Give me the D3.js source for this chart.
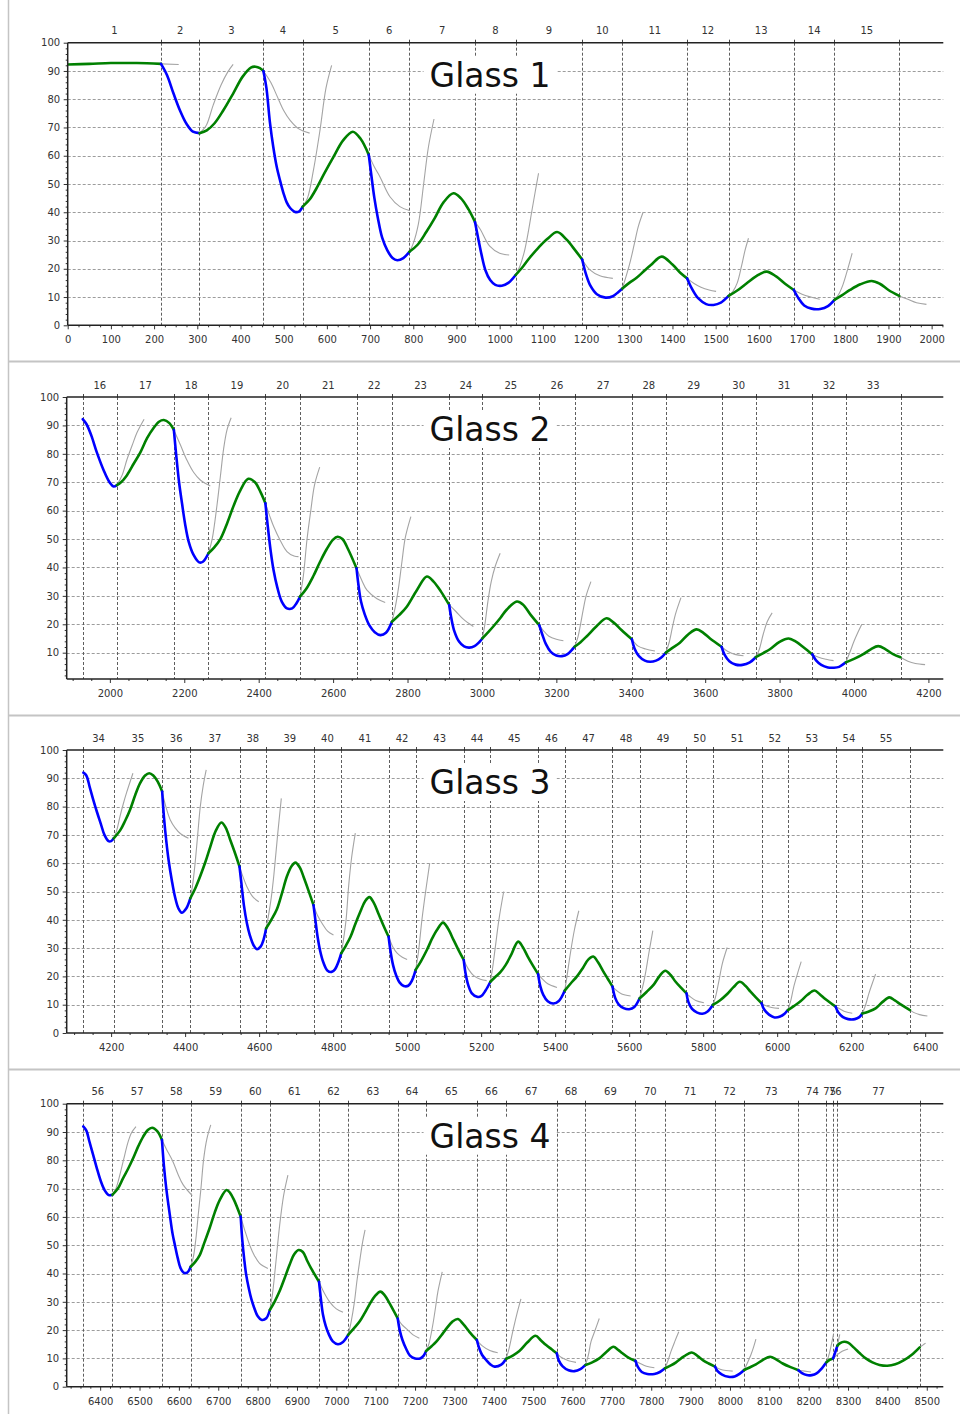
<!DOCTYPE html>
<html>
<head>
<meta charset="utf-8">
<script src="https://cdn.jsdelivr.net/npm/d3@7"></script>
<style>
  html, body { margin: 0; padding: 0; background: #fff; }
  svg { display: block; }
</style>
</head>
<body>
<svg id="chart" width="960" height="1414"></svg>
<script>
// ---------------------------------------------------------------
// Data: cycle boundaries, main trace points and extrapolation traces
// ---------------------------------------------------------------
const titles = ["Glass 1", "Glass 2", "Glass 3", "Glass 4"];
const firstCycle = [1, 16, 34, 56];

const glass1Bounds = [0, 216, 305, 453, 544, 697, 791, 943, 1037, 1191, 1284, 1434, 1530, 1681, 1775, 1925];
const glass1Curve = [
  [0,92.3],[50,92.5],[100,92.8],[160,92.8],[216,92.5],
  [230,88.5],[245,82],[260,76],[275,71.3],[290,68.5],[305,68],
  [322,69],[340,71.5],[360,76],[383,82],[405,88],[425,91.3],[435,91.5],[445,91],[453,90],
  [460,84],[468,72],[476,63],[484,56],[492,51],[500,46.5],[507,43.5],[515,41.5],[525,40.2],[535,40.2],[544,42],
  [560,44.5],[576,48.5],[595,54],[615,59.5],[638,65.5],[660,68.5],[678,66],[697,60.3],
  [703,53],[710,45],[718,38],[728,31],[740,26.5],[752,23.8],[763,23],[777,23.8],[791,26],
  [810,28.5],[830,33],[850,38],[870,43.5],[893,46.7],[910,45],[928,41],[943,36.5],
  [950,31],[958,25],[967,19.5],[978,16],[990,14.3],[1005,14],[1020,15],[1037,17.8],
  [1055,21],[1070,24],[1090,27.5],[1110,30.5],[1133,33],[1155,30.3],[1175,26.5],[1191,23.3],
  [1200,18],[1210,14],[1225,11],[1245,9.8],[1262,10.3],[1275,11.8],[1284,13],
  [1300,15],[1317,16.8],[1335,19.3],[1350,21.3],[1375,24.3],[1400,21.5],[1420,18.3],[1434,16.6],
  [1445,13],[1460,9.5],[1478,7.5],[1495,7.2],[1512,8],[1530,10.4],
  [1550,12.3],[1572,14.9],[1595,17.5],[1618,19],[1640,17.3],[1660,14.8],[1681,12.5],
  [1692,9.5],[1705,7],[1722,5.9],[1742,5.8],[1760,6.8],[1775,9],
  [1793,10.7],[1811,12.5],[1835,14.5],[1861,15.7],[1880,14.7],[1900,12.5],[1925,10.4]
];
const glass1Ghosts = [
  [[216,92.5],[257,92.3]],
  [[305,68],[320,70.5],[337,78],[355,85],[370,89.5],[383,92.3]],
  [[453,90],[470,86],[485,81],[500,76],[515,72.5],[535,69.5],[560,68]],
  [[544,42],[555,45],[569,55],[584,69],[598,84],[611,92]],
  [[697,60.3],[710,56],[723,52.5],[746,45.5],[769,42],[791,40.6]],
  [[791,26],[800,29],[812,36],[824,50],[835,63],[848,73]],
  [[943,36.5],[955,34],[977,28],[1000,25.5],[1022,24.9]],
  [[1037,17.8],[1047,21],[1057,26],[1065,32],[1074,40],[1082,47],[1090,53.8]],
  [[1191,23.3],[1209,19.6],[1232,17.5],[1262,16.6]],
  [[1284,13],[1294,18],[1303,23],[1312,29],[1321,35],[1332,40]],
  [[1434,16.6],[1450,14.8],[1466,13.5],[1485,12.5],[1501,12]],
  [[1530,10.4],[1540,12],[1550,15],[1560,21],[1568,26.5],[1576,30.8]],
  [[1681,12.5],[1700,11],[1720,10],[1741,9.2]],
  [[1775,9],[1785,11],[1795,14.5],[1805,19.5],[1816,25.5]],
  [[1925,10.4],[1945,9.2],[1965,8],[1988,7.4]]
];

const glass2Bounds = [1927, 2019, 2172, 2265, 2418, 2511, 2663, 2758, 2912, 3001, 3154, 3249, 3403, 3494, 3644, 3736, 3888, 3978, 4125];
const glass2Curve = [
  [1927,92.2],[1937,90.5],[1950,86.5],[1965,80.5],[1983,74.3],[2000,69.8],[2010,68.5],[2019,69],
  [2030,70],[2046,72.5],[2064,76.5],[2082,80.5],[2100,85.5],[2117,89],[2132,91.3],[2145,91.9],[2160,90.8],[2172,88.4],
  [2178,80],[2186,70],[2194,62.5],[2202,55.5],[2212,49],[2225,44.4],[2240,41.8],[2250,42],[2265,45],
  [2280,47],[2297,50],[2315,55.5],[2332,61.5],[2350,67],[2372,71.2],[2390,70],[2405,66.5],[2418,62.6],
  [2424,55],[2432,46],[2440,39],[2450,33],[2462,28],[2476,25.6],[2490,25.6],[2502,27.5],[2511,29.7],
  [2528,32.5],[2547,37],[2565,42],[2583,46.5],[2600,49.8],[2612,50.8],[2625,50],[2640,46.5],[2663,39.7],
  [2668,34],[2675,28],[2685,23.5],[2698,19.5],[2712,17.2],[2727,16.2],[2742,17],[2758,20.9],
  [2778,23.3],[2798,26.2],[2825,32],[2852,36.8],[2870,35],[2890,31.5],[2912,26.8],
  [2918,22],[2926,17.5],[2938,14],[2952,12.2],[2966,11.8],[2980,12.3],[2992,13.6],[3001,15],
  [3015,17],[3031,19.3],[3050,22.3],[3067,25.2],[3094,28],[3110,27],[3130,23.5],[3154,19.7],
  [3162,16.5],[3172,13],[3185,10.3],[3200,9],[3215,8.8],[3230,9.5],[3249,12.1],
  [3265,13.7],[3282,15.8],[3308,19.3],[3335,22.1],[3355,20.5],[3375,18],[3403,14.7],
  [3410,11.5],[3422,8.8],[3438,7.2],[3452,6.8],[3468,7.2],[3482,8.3],[3494,10],
  [3512,11.7],[3532,13.5],[3555,16.5],[3577,18.2],[3595,17],[3613,15],[3644,12.1],
  [3652,9.3],[3665,7],[3682,5.8],[3700,5.7],[3720,6.6],[3736,8.4],
  [3755,9.8],[3774,11.2],[3800,13.8],[3824,15],[3845,13.8],[3865,11.8],[3888,9.4],
  [3898,7.3],[3912,5.7],[3930,4.8],[3945,4.7],[3960,5],[3978,6.6],
  [4000,7.8],[4025,9.5],[4045,11.2],[4065,12.3],[4085,11.2],[4105,9.5],[4125,8.4]
];
const glass2Ghosts = [
  [[2019,69],[2033,72.5],[2046,78],[2060,83],[2073,87.5],[2092,92.2]],
  [[2172,88.4],[2190,83],[2207,77.8],[2225,73.5],[2243,70.8],[2270,68.7]],
  [[2265,45],[2275,50],[2288,62],[2297,72],[2306,82],[2315,88.5],[2326,92.7]],
  [[2418,62.6],[2430,58],[2440,54.5],[2458,49.5],[2476,45.6],[2495,44],[2507,43.8]],
  [[2511,29.7],[2520,37],[2530,50],[2540,60],[2550,69],[2564,75.3]],
  [[2663,39.7],[2677,35.5],[2691,32],[2718,29],[2740,27.7]],
  [[2758,20.9],[2767,26],[2776,33],[2785,42],[2794,50.5],[2809,57.9]],
  [[2912,26.8],[2930,24.5],[2950,21.8],[2977,19.2]],
  [[3001,15],[3008,20],[3016,28],[3025,35],[3036,40.5],[3049,45]],
  [[3154,19.7],[3165,17.8],[3180,15.8],[3200,14.7],[3219,14.2]],
  [[3249,12.1],[3258,15.5],[3265,20],[3272,25],[3280,30],[3293,35]],
  [[3403,14.7],[3420,12.3],[3440,11.3],[3465,10.6]],
  [[3494,10],[3503,13.5],[3512,19],[3520,23.5],[3535,29.4]],
  [[3644,12.1],[3660,10.5],[3680,9.4],[3703,8.9]],
  [[3736,8.4],[3745,11],[3756,16.5],[3767,21],[3780,24]],
  [[3888,9.4],[3905,8.4],[3925,7.7],[3945,7.2]],
  [[3978,6.6],[3990,10.5],[4000,14],[4010,17],[4021,20]],
  [[4125,8.4],[4145,7],[4165,6.2],[4191,5.8]]
];

const glass3Bounds = [4125, 4207, 4338, 4414, 4547, 4619, 4747, 4822, 4950, 5023, 5153, 5225, 5354, 5426, 5555, 5628, 5755, 5826, 5958, 6029, 6158, 6230, 6359];
const glass3Curve = [
  [4125,92],[4133,91],[4142,87],[4152,82.3],[4162,78],[4172,74],[4182,70],[4193,67.8],[4200,67.8],[4207,68.8],
  [4224,71.5],[4238,75],[4251,78.8],[4265,84],[4278,88.2],[4292,91],[4303,91.8],[4314,91],[4326,88.8],[4338,85.3],
  [4343,76],[4349,68],[4356,60.5],[4364,54],[4372,48.5],[4382,44],[4391,42.5],[4403,44],[4414,47.6],
  [4427,51],[4441,55.5],[4455,60.5],[4468,65.8],[4483,71.5],[4498,74.4],[4510,72.5],[4522,68.2],[4535,63.5],[4547,58.8],
  [4552,53],[4559,45],[4567,38.8],[4575,34.5],[4585,31],[4594,29.6],[4604,30.5],[4612,33],[4619,37],
  [4633,40],[4648,43.7],[4662,49.5],[4675,55.3],[4688,59],[4698,60.2],[4710,58.5],[4720,55.2],[4733,50.5],[4747,45.2],
  [4752,40],[4758,34],[4765,29],[4774,24.8],[4785,22],[4796,21.6],[4805,22.5],[4814,25],[4822,28.2],
  [4835,31],[4847,34],[4860,38.5],[4874,43],[4886,46.5],[4898,48],[4910,46],[4922,42.3],[4936,38],[4950,34],
  [4955,29],[4962,24],[4970,20.5],[4980,17.8],[4991,16.6],[5003,16.7],[5013,18.5],[5023,22.3],
  [5038,25.5],[5054,29.5],[5068,33.5],[5081,36.5],[5097,39],[5110,37],[5125,33],[5140,29],[5153,25.8],
  [5158,21],[5165,17],[5175,14],[5189,12.8],[5200,13],[5212,15],[5225,18.1],
  [5238,19.8],[5252,21.5],[5266,24],[5280,27.3],[5300,32.3],[5312,30.5],[5326,27],[5340,23.8],[5354,20.8],
  [5360,16.5],[5368,13.5],[5380,11.2],[5395,10.4],[5410,11.3],[5426,15],
  [5442,17.5],[5459,20],[5475,23],[5490,26],[5503,27],[5516,25],[5530,21.8],[5543,19],[5555,16.4],
  [5562,12.5],[5572,10],[5585,8.8],[5600,8.4],[5614,9.2],[5628,12.2],
  [5647,14.5],[5667,17.2],[5683,20.3],[5698,22],[5712,20.5],[5725,18.2],[5740,16],[5755,14],
  [5760,11],[5770,8.5],[5784,7.2],[5798,6.8],[5812,7.6],[5826,9.9],
  [5845,11.5],[5865,13.8],[5882,16.2],[5899,18.1],[5914,16.7],[5928,14.6],[5943,12.5],[5958,10.5],
  [5965,8.3],[5978,6.5],[5993,5.5],[6008,5.8],[6020,6.8],[6029,8.1],
  [6045,9.5],[6063,11.2],[6082,13.5],[6101,15],[6115,13.7],[6130,12],[6158,9.3],
  [6165,7.3],[6178,5.6],[6192,4.9],[6210,4.9],[6222,5.6],[6230,6.9],
  [6248,7.6],[6266,8.7],[6285,11],[6303,12.6],[6318,11.5],[6335,10],[6359,8.1]
];
const glass3Ghosts = [
  [[4207,68.8],[4215,71.5],[4224,76.5],[4233,81],[4242,85],[4259,91.8]],
  [[4338,85.3],[4348,80],[4360,75.3],[4373,72.5],[4387,70.5],[4409,68.8]],
  [[4414,47.6],[4420,52],[4427,60],[4434,70],[4441,80],[4449,87.5],[4457,93]],
  [[4547,58.8],[4557,55],[4567,51.7],[4582,48.3],[4599,46.4]],
  [[4619,37],[4626,42],[4633,48],[4640,56],[4650,70],[4660,82.9]],
  [[4747,45.2],[4758,41.5],[4770,38.8],[4785,36],[4801,34.6]],
  [[4822,28.2],[4828,33],[4835,40],[4842,52],[4850,62],[4860,70.6]],
  [[4950,34],[4961,30.5],[4973,28.2],[4987,26.8],[5000,26]],
  [[5023,22.3],[5030,28],[5040,40],[5050,50],[5061,60]],
  [[5153,25.8],[5166,22.5],[5180,20.3],[5198,19],[5215,18.5]],
  [[5225,18.1],[5231,23],[5238,30],[5248,40],[5261,50]],
  [[5354,20.8],[5366,19],[5380,17.4],[5405,16.1]],
  [[5426,15],[5432,20],[5441,28],[5452,36.4],[5464,43.2]],
  [[5555,16.4],[5566,15],[5580,13.8],[5604,13.1]],
  [[5628,12.2],[5636,16],[5644,21],[5653,28],[5664,36.2]],
  [[5755,14],[5765,12.8],[5780,11.5],[5802,10.7]],
  [[5826,9.9],[5833,12.5],[5843,18.7],[5852,24.6],[5865,30.2]],
  [[5958,10.5],[5970,9.6],[5985,9],[6005,8.7]],
  [[6029,8.1],[6037,11.5],[6045,16.4],[6055,21],[6065,25.2]],
  [[6158,9.3],[6170,8.5],[6185,7.5],[6203,7]],
  [[6230,6.9],[6238,9.5],[6248,14],[6257,17.5],[6266,20.8]],
  [[6359,8.1],[6370,7.2],[6385,6.5],[6406,6]]
];

const glass4Bounds = [6357, 6431, 6557, 6630, 6757, 6831, 6956, 7030, 7156, 7228, 7357, 7431, 7560, 7633, 7760, 7835, 7962, 8036, 8174, 8245, 8262, 8273, 8482];
const glass4Curve = [
  [6357,92],[6365,90.5],[6372,87],[6382,82],[6392,77],[6402,72.5],[6412,69.3],[6422,67.7],[6431,67.8],
  [6445,70],[6458,73.6],[6471,77],[6484,80.8],[6497,85],[6509,88.3],[6521,90.7],[6532,91.5],[6545,90.3],[6557,87.2],
  [6562,78],[6568,70],[6577,60.7],[6584,54],[6590,50],[6597,45.5],[6604,42],[6612,40.3],[6621,40.3],[6630,42.4],
  [6641,44],[6653,46.5],[6665,51],[6678,56],[6691,61.5],[6704,66],[6721,69.5],[6730,68.5],[6740,66],[6757,60.1],
  [6761,52],[6766,45],[6771,39.5],[6778,34.5],[6784,31],[6791,28],[6800,25],[6811,23.6],[6822,24.2],[6831,27.1],
  [6843,30],[6856,33.8],[6869,38.5],[6881,43],[6893,46.8],[6904,48.3],[6915,47.6],[6926,44.5],[6936,41.8],[6956,37.1],
  [6960,32],[6966,25.5],[6973,21.5],[6981,18.5],[6991,16],[7004,15],[7017,15.8],[7030,18.3],
  [7044,20.5],[7059,23],[7072,26],[7084,29],[7098,32],[7112,33.6],[7123,32.3],[7135,29.5],[7156,24.1],
  [7161,20],[7168,16.5],[7177,13.5],[7187,11],[7200,10],[7213,10],[7222,11],[7228,12.6],
  [7242,14.3],[7254,15.9],[7267,18.2],[7280,20.6],[7295,23],[7309,23.9],[7323,22],[7338,19.4],[7357,16.5],
  [7362,14],[7370,11.3],[7381,9.4],[7392,7.8],[7402,7.1],[7419,7.8],[7431,9.8],
  [7448,11],[7465,12.6],[7485,15.6],[7506,18],[7520,16.3],[7533,14.7],[7547,13.2],[7560,11.8],
  [7565,9.3],[7575,7.2],[7590,5.8],[7605,5.5],[7620,6.2],[7633,7.7],
  [7650,8.6],[7668,10],[7686,12.3],[7704,14.1],[7716,13],[7727,11.8],[7742,10.3],[7760,9.1],
  [7766,7],[7776,5.2],[7790,4.5],[7808,4.5],[7822,5.2],[7835,6.5],
  [7850,7.5],[7863,8.6],[7883,10.7],[7903,12.1],[7918,10.8],[7931,9.4],[7946,8.2],[7962,7.1],
  [7968,5.6],[7980,4.3],[7996,3.5],[8012,3.6],[8025,4.6],[8036,5.9],
  [8050,6.8],[8066,7.9],[8084,9.5],[8102,10.6],[8118,9.6],[8134,8.2],[8154,6.9],[8174,5.8],
  [8183,4.8],[8195,4.1],[8208,4.1],[8220,4.7],[8234,6.6],[8245,8.6],
  [8253,9.5],[8262,10],
  [8267,12],[8273,14.5],
  [8280,15.4],[8290,15.9],[8300,15.6],[8315,13.8],[8330,11.8],[8345,10],[8362,8.6],[8380,7.7],[8400,7.4],
  [8420,7.9],[8440,9.2],[8462,11.3],[8482,13.9]
];
const glass4Ghosts = [
  [[6431,67.8],[6440,70],[6450,74.8],[6460,80.5],[6471,86.5],[6480,89.8],[6491,91.9]],
  [[6557,87.2],[6570,83.5],[6585,79.5],[6598,75],[6611,71.3],[6634,67.5]],
  [[6630,42.4],[6637,46],[6643,52],[6649,60.5],[6656,70],[6663,80.5],[6671,87.5],[6681,92.5]],
  [[6757,60.1],[6768,55],[6780,50],[6792,46.3],[6805,43.6],[6826,41.8]],
  [[6831,27.1],[6838,33],[6845,42],[6856,57],[6866,67.5],[6877,74.8]],
  [[6956,37.1],[6968,33.5],[6983,30],[7000,27.5],[7017,26.3]],
  [[7030,18.3],[7037,22.5],[7046,30],[7052,37],[7059,44],[7066,50.5],[7073,55.4]],
  [[7156,24.1],[7166,22],[7177,20.6],[7195,18.3],[7211,17.1]],
  [[7228,12.6],[7235,15],[7245,21.8],[7252,28],[7258,33.6],[7269,40.6]],
  [[7357,16.5],[7370,14.5],[7390,12.8],[7410,12]],
  [[7431,9.8],[7438,13],[7448,19.4],[7458,25.3],[7469,31]],
  [[7560,11.8],[7572,10.3],[7590,9.2],[7609,8.6]],
  [[7633,7.7],[7640,11],[7647,15.9],[7656,19.4],[7668,24.1]],
  [[7760,9.1],[7772,8.2],[7788,7.2],[7808,6.7]],
  [[7835,6.5],[7842,9],[7850,12.4],[7860,16],[7870,19.4]],
  [[7962,7.1],[7975,6.2],[7990,5.7],[8007,5.5]],
  [[8036,5.9],[8044,8.3],[8053,11.2],[8060,14],[8066,16.8]],
  [[8174,5.8],[8190,5.5],[8206,5.2]],
  [[8245,8.6],[8251,11],[8257,14.5],[8263,18.5]],
  [[8262,10],[8272,11.2],[8285,12.5],[8300,13.3]],
  [[8273,14.5],[8276,16.5],[8279,18.5]],
  [[8482,13.9],[8490,14.7],[8497,15.4]]
];

// Axis extents and tick spacing per panel
const xDomains = [[0, 2027], [1884, 4240], [4080, 6449], [6315, 8542]];
const yDomains = [[0, 100], [0.74, 100], [0, 100], [0, 100]];
const xMajorSteps = [100, 200, 200, 100];
const xMinorSteps = [25, 50, 50, 25];
const yMajorStep = 10;
const yMinorStep = 2;

const bounds = [glass1Bounds, glass2Bounds, glass3Bounds, glass4Bounds];
const curves = [glass1Curve, glass2Curve, glass3Curve, glass4Curve];
const ghosts = [glass1Ghosts, glass2Ghosts, glass3Ghosts, glass4Ghosts];

// ---------------------------------------------------------------
// Layout
// ---------------------------------------------------------------
const frames = [
  { left: 67.7, right: 943.3, top: 42.7,   bottom: 325.3 },
  { left: 66.7, right: 943.3, top: 397,    bottom: 679 },
  { left: 66.7, right: 943.3, top: 750,    bottom: 1033 },
  { left: 66.7, right: 943.3, top: 1103.7, bottom: 1386.7 }
];
const separatorsY = [361.5, 715.5, 1069.5];

const FONT = "DejaVu Sans, Verdana, sans-serif";
const BLUE = "#0000ff";
const GREEN = "#008000";
const GHOST = "#a4a4a4";
const TEXT = "#333";

const svg = d3.select("#chart");

// page frame: left rule and separators between panels
svg.append("line")
  .attr("x1", 8.5).attr("x2", 8.5).attr("y1", 0).attr("y2", 1414)
  .attr("stroke", "#c4c4c4").attr("stroke-width", 1.5);
svg.selectAll(".sep").data(separatorsY).join("line")
  .attr("class", "sep")
  .attr("x1", 8).attr("x2", 960)
  .attr("y1", d => d).attr("y2", d => d)
  .attr("stroke", "#c4c4c4").attr("stroke-width", 1.8);

function stepRange(lo, hi, step) {
  const start = Math.ceil(lo / step - 1e-9) * step;
  return d3.range(start, hi + 1e-9, step);
}

titles.forEach((title, i) => {
  const f = frames[i];
  const b = bounds[i];
  const x = d3.scaleLinear().domain(xDomains[i]).range([f.left, f.right]);
  const y = d3.scaleLinear().domain(yDomains[i]).range([f.bottom, f.top]);
  const g = svg.append("g").attr("class", "panel");

  const clipId = "clip" + i;
  g.append("clipPath").attr("id", clipId)
    .append("rect")
    .attr("x", f.left).attr("y", f.top)
    .attr("width", f.right - f.left).attr("height", f.bottom - f.top);

  // horizontal dashed grid
  const yGrid = stepRange(yDomains[i][0], 100, yMajorStep).filter(v => v > yDomains[i][0] && v < 100);
  g.append("g").selectAll("line").data(yGrid).join("line")
    .attr("x1", f.left).attr("x2", f.right)
    .attr("y1", d => Math.round(y(d)) + 0.5).attr("y2", d => Math.round(y(d)) + 0.5)
    .attr("stroke", "#9c9c9c").attr("stroke-width", 1)
    .attr("stroke-dasharray", "3,2");

  // vertical dashed lines at cycle boundaries
  const vLines = b.filter(v => v > xDomains[i][0]);
  g.append("g").selectAll("line").data(vLines).join("line")
    .attr("x1", d => Math.round(x(d)) + 0.5).attr("x2", d => Math.round(x(d)) + 0.5)
    .attr("y1", f.top).attr("y2", f.bottom)
    .attr("stroke", "#5e5e5e").attr("stroke-width", 1)
    .attr("stroke-dasharray", "3,2");

  // small ticks above the top border at each boundary
  g.append("g").selectAll("line").data(vLines).join("line")
    .attr("x1", d => Math.round(x(d)) + 0.5).attr("x2", d => Math.round(x(d)) + 0.5)
    .attr("y1", f.top - 3).attr("y2", f.top)
    .attr("stroke", "#444").attr("stroke-width", 1);

  // cycle numbers centred in each interval
  const cycles = d3.range(b.length - 1).map(k => ({
    n: firstCycle[i] + k,
    cx: (x(b[k]) + x(b[k + 1])) / 2
  }));
  g.append("g").selectAll("text").data(cycles).join("text")
    .attr("x", d => d.cx).attr("y", f.top - 12)
    .attr("dy", "0.35em")
    .attr("text-anchor", "middle")
    .attr("font-family", FONT).attr("font-size", 10)
    .attr("fill", TEXT)
    .text(d => d.n);

  // title with a white backing box
  const tg = g.append("g");
  const bg = tg.append("rect").attr("fill", "#fff");
  const tt = tg.append("text")
    .attr("x", 490).attr("y", f.top + 44)
    .attr("text-anchor", "middle")
    .attr("font-family", FONT).attr("font-size", 33)
    .attr("fill", "#111")
    .text(title);
  const bb = tt.node().getBBox();
  bg.attr("x", bb.x - 6).attr("y", f.top + 14)
    .attr("width", bb.width + 12).attr("height", 37);

  const line = d3.line()
    .x(d => x(d[0])).y(d => y(d[1]))
    .curve(d3.curveCatmullRom.alpha(0.5));

  // extrapolation traces
  g.append("g").attr("clip-path", `url(#${clipId})`)
    .selectAll("path").data(ghosts[i]).join("path")
    .attr("d", line)
    .attr("fill", "none")
    .attr("stroke", GHOST).attr("stroke-width", 1.1);

  // main trace, coloured per cycle
  const segs = d3.range(b.length - 1).map(k => ({
    n: firstCycle[i] + k,
    pts: curves[i].filter(p => p[0] >= b[k] && p[0] <= b[k + 1])
  }));
  g.append("g").attr("clip-path", `url(#${clipId})`)
    .selectAll("path").data(segs).join("path")
    .attr("d", d => line(d.pts))
    .attr("fill", "none")
    .attr("stroke", d => d.n % 2 === 0 ? BLUE : GREEN)
    .attr("stroke-width", 2.6)
    .attr("stroke-linecap", "round")
    .attr("stroke-linejoin", "round");

  // axes
  const xMajor = stepRange(xDomains[i][0], xDomains[i][1], xMajorSteps[i]);
  const xMinor = stepRange(xDomains[i][0], xDomains[i][1], xMinorSteps[i]).filter(v => xMajor.indexOf(v) < 0);
  const yMajor = stepRange(yDomains[i][0], 100, yMajorStep);
  const yMinor = stepRange(yDomains[i][0], 100, yMinorStep).filter(v => yMajor.indexOf(v) < 0);

  const styleAxis = a => {
    a.select(".domain").remove();
    a.attr("font-family", FONT).attr("font-size", 10);
    a.selectAll("line").attr("stroke", "#333");
    a.selectAll("text").attr("fill", TEXT);
  };

  g.append("g").attr("transform", `translate(0,${f.bottom})`)
    .call(d3.axisBottom(x).tickValues(xMinor).tickSize(2).tickFormat(""))
    .call(styleAxis);
  g.append("g").attr("transform", `translate(0,${f.bottom})`)
    .call(d3.axisBottom(x).tickValues(xMajor).tickSize(4).tickPadding(7).tickFormat(d3.format("d")))
    .call(styleAxis);
  g.append("g").attr("transform", `translate(${f.left},0)`)
    .call(d3.axisLeft(y).tickValues(yMinor).tickSize(2).tickFormat(""))
    .call(styleAxis);
  g.append("g").attr("transform", `translate(${f.left},0)`)
    .call(d3.axisLeft(y).tickValues(yMajor).tickSize(4).tickPadding(3.5).tickFormat(d3.format("d")))
    .call(styleAxis);

  // frame lines: left, bottom, top
  const frame = g.append("g").attr("stroke", "#222").attr("stroke-width", 1.5);
  frame.append("line").attr("x1", f.left).attr("x2", f.left).attr("y1", f.top).attr("y2", f.bottom);
  frame.append("line").attr("x1", f.left).attr("x2", f.right).attr("y1", f.bottom).attr("y2", f.bottom);
  frame.append("line").attr("x1", f.left).attr("x2", f.right).attr("y1", f.top).attr("y2", f.top);
});
</script>
</body>
</html>
